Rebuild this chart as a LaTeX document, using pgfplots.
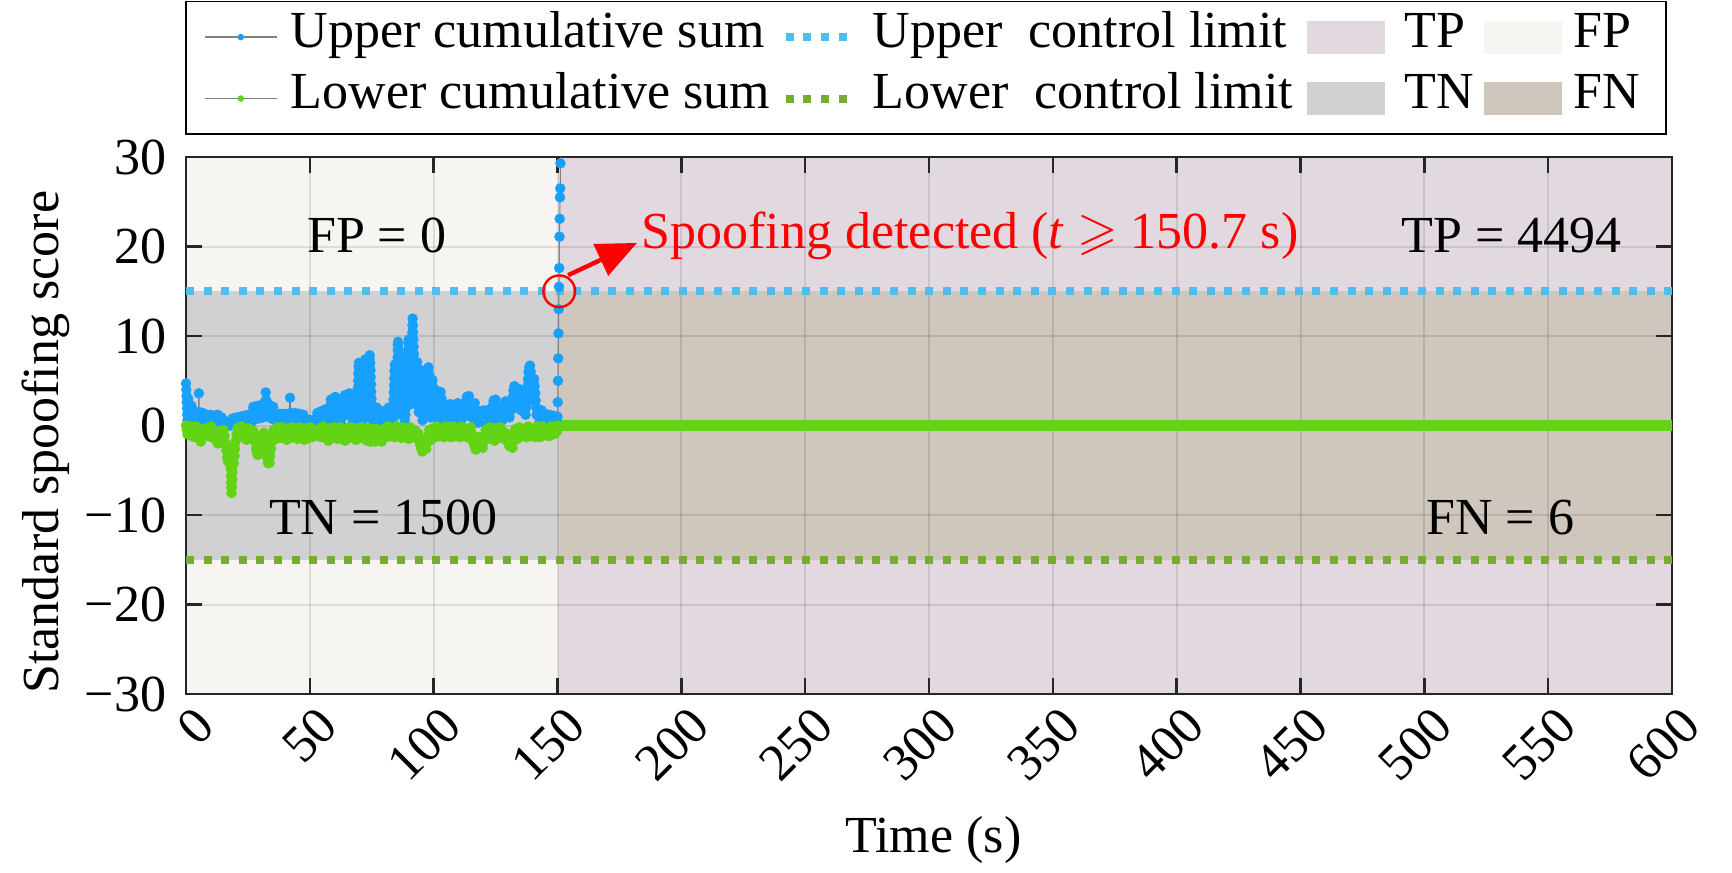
\documentclass[border=0pt]{standalone}
\usepackage{pgfplots}
\pgfplotsset{compat=1.18}
\usepackage{amssymb}
\usepackage{fontspec}
\setmainfont{Liberation Serif}
\usetikzlibrary{arrows.meta}
\definecolor{cumblue}{RGB}{24,160,255}
\definecolor{cumgreen}{RGB}{98,212,20}
\definecolor{cumline}{RGB}{128,128,128}
\definecolor{uclblue}{RGB}{77,190,238}
\definecolor{lclgreen}{RGB}{119,172,48}
\definecolor{FPc}{RGB}{247,245,241}
\definecolor{TNc}{RGB}{209,209,212}
\definecolor{TPc}{RGB}{226,217,224}
\definecolor{FNc}{RGB}{207,198,190}
\definecolor{axc}{RGB}{38,38,38}
\begin{document}
\begin{tikzpicture}[font=\fontsize{13}{15.6}\selectfont]
\begin{axis}[
  at={(0pt,0pt)}, anchor=south west,
  scale only axis, width=371.5pt, height=134.25pt,
  xmin=0, xmax=600, ymin=-30, ymax=30,
  xtick={0,50,...,600}, ytick={-30,-20,...,30},
  yticklabels={−30,−20,−10,0,10,20,30},
  /pgf/number format/assume math mode=true,
  xticklabel style={xshift=1.5pt, yshift=-2.3pt, rotate=45, anchor=north east, inner sep=0pt},
  yticklabel style={xshift=-1.4pt},
  tick align=inside, major tick length=4pt,
  tick style={axc, line width=0.6pt},
  axis line style={axc, line width=0.6pt},
  grid=major, grid style={black, opacity=0.1, line width=0.5pt},
  set layers,
  xlabel={Time (s)},
  xlabel style={at={([yshift=-36.5pt]axis description cs:0.503,0)}, anchor=center},
  ylabel={Standard spoofing score},
  ylabel style={at={([xshift=-35pt]axis description cs:0,0.469)}, anchor=center},
  legend columns=4, legend cell align=left,
  legend style={at={(0,1)}, anchor=south west, yshift=5.75pt, draw=black, line width=0.4pt,
    fill=white, inner xsep=4.5pt, inner ysep=3.25pt, column sep=0pt, row sep=4.1pt, outer sep=0pt,
    nodes={inner sep=0pt, outer sep=0pt, text height=8.2pt, text depth=3.05pt, anchor=west}},
]
% legend entries
\addlegendimage{legend image code/.code={\draw[cumline, line width=0.4pt, mark=*, mark size=0.6pt, mark options={draw=cumblue, fill=cumblue}, mark repeat=2, mark phase=2] plot coordinates {(0pt,0pt) (9pt,0pt) (18pt,0pt)}; \path[draw=none, fill=none] (0pt,0pt) rectangle (21.5pt,0.1pt);}}
\addlegendentry{\makebox[122.75pt][l]{Upper cumulative sum}}
\addlegendimage{legend image code/.code={\draw[uclblue, line width=2pt, dash pattern=on 2pt off 2.4pt] (0pt,0pt) -- (15.2pt,0pt); \path[draw=none, fill=none] (0pt,0pt) rectangle (21.75pt,0.1pt);}}
\addlegendentry{\makebox[108.5pt][l]{Upper~~control limit}}
\addlegendimage{legend image code/.code={\path[draw=none, fill=TPc] (0pt,-4.1pt) rectangle (19.5pt,4.1pt); \path[draw=none, fill=none] (0pt,0pt) rectangle (24.5pt,0.1pt);}}
\addlegendentry{\makebox[19.75pt][l]{TP}}
\addlegendimage{legend image code/.code={\path[draw=none, fill=FPc] (0pt,-4.1pt) rectangle (19.5pt,4.1pt); \path[draw=none, fill=none] (0pt,0pt) rectangle (22.5pt,0.1pt);}}
\addlegendentry{\makebox[18.5pt][l]{FP}}
\addlegendimage{legend image code/.code={\draw[cumline, line width=0.4pt, mark=*, mark size=0.6pt, mark options={draw=cumgreen, fill=cumgreen}, mark repeat=2, mark phase=2] plot coordinates {(0pt,0pt) (9pt,0pt) (18pt,0pt)}; \path[draw=none, fill=none] (0pt,0pt) rectangle (21.5pt,0.1pt);}}
\addlegendentry{\makebox[122.75pt][l]{Lower cumulative sum}}
\addlegendimage{legend image code/.code={\draw[lclgreen, line width=2pt, dash pattern=on 2pt off 2.4pt] (0pt,0pt) -- (15.2pt,0pt); \path[draw=none, fill=none] (0pt,0pt) rectangle (21.75pt,0.1pt);}}
\addlegendentry{\makebox[108.5pt][l]{Lower~~control limit}}
\addlegendimage{legend image code/.code={\path[draw=none, fill=TNc] (0pt,-4.1pt) rectangle (19.5pt,4.1pt); \path[draw=none, fill=none] (0pt,0pt) rectangle (24.5pt,0.1pt);}}
\addlegendentry{\makebox[19.75pt][l]{TN}}
\addlegendimage{legend image code/.code={\path[draw=none, fill=FNc] (0pt,-4.1pt) rectangle (19.5pt,4.1pt); \path[draw=none, fill=none] (0pt,0pt) rectangle (22.5pt,0.1pt);}}
\addlegendentry{\makebox[18.5pt][l]{FN}}

% background patches
\addplot[on layer=axis background, fill=FPc, draw=none, forget plot] coordinates {(0,-30)(150,-30)(150,30)(0,30)};
\addplot[on layer=axis background, fill=TNc, draw=none, forget plot] coordinates {(0,-15)(150,-15)(150,15)(0,15)};
\addplot[on layer=axis background, fill=TPc, draw=none, forget plot] coordinates {(150,-30)(600,-30)(600,30)(150,30)};
\addplot[on layer=axis background, fill=FNc, draw=none, forget plot] coordinates {(150,-15)(600,-15)(600,15)(150,15)};

% control limits
\addplot[uclblue, line width=2pt, dash pattern=on 2pt off 2.4pt, forget plot] coordinates {(0,15)(600,15)};
\addplot[lclgreen, line width=2pt, dash pattern=on 2pt off 2.4pt, forget plot] coordinates {(0,-15)(600,-15)};

% upper cumulative sum
\addplot[cumline, line width=0.25pt, mark=*, mark size=1.25pt, mark options={draw=cumblue, fill=cumblue, line width=0.1pt}, forget plot] coordinates {
(0,4.7)(0.1,4.0)(0.2,3.3)(0.3,2.6)(0.4,1.9)(0.5,1.2)(0.6,0.6)(0.7,1.4)(0.8,2.2)(0.9,3.0)(1.0,2.4)(1.2,1.6)(1.4,0.8)(1.6,0.2)(1.8,1.0)(2.0,1.8)(2.2,2.2)(2.5,1.4)(2.8,0.6)(3.1,0.2)(3.4,0.9)(3.7,1.5)(4.0,1.1)(4.3,0.5)(4.6,1.2)(5.0,1.4)(5.2,3.6)(5.4,1.5)(5.7,0.8)(6.0,0.2)(6.4,0.8)(6.8,1.4)(7.2,0.9)(7.6,0.3)(8.0,0.9)(8.4,1.2)(8.8,0.6)(9.2,0.1)(9.6,0.7)(10.0,1.2)(10.4,0.6)(10.8,0.1)(11.2,0.8)(11.6,1.1)(12.0,0.5)(12.4,0.9)(12.8,1.2)(13.2,0.6)(13.6,0.1)(14.0,0.6)(14.4,0.9)(14.8,0.4)(15.2,0.1)(15.6,0.5)(16.0,0.2)(16.4,0.0)(16.8,0.1)(17.2,0.0)(17.6,0.3)(18.0,0.0)(18.4,0.4)(18.8,0.8)(19.2,0.3)(19.6,0.0)(20.0,0.5)(20.4,0.9)(20.8,0.4)(21.2,0.1)(21.6,0.6)(22.0,1.0)(22.4,0.5)(22.8,0.1)(23.2,0.7)(23.6,1.1)(24.0,0.6)(24.4,0.1)(24.8,0.7)(25.2,1.2)(25.6,0.6)(26.0,0.1)(26.4,0.8)(26.8,1.5)(27.2,2.1)(27.6,1.4)(28.0,0.7)(28.4,1.5)(28.8,2.2)(29.2,1.5)(29.6,0.8)(30.0,1.6)(30.4,2.3)(30.8,1.6)(31.2,0.9)(31.6,1.8)(31.9,2.7)(32.2,3.7)(32.5,2.8)(32.8,2.0)(33.1,1.2)(33.4,2.0)(33.7,2.3)(34.0,1.5)(34.4,0.8)(34.8,1.5)(35.2,2.1)(35.6,1.4)(36.0,0.6)(36.4,1.2)(36.8,0.5)(37.2,1.1)(37.6,1.3)(38.0,0.6)(38.4,0.1)(38.8,0.7)(39.2,1.3)(39.6,0.7)(40.0,0.2)(40.4,0.8)(40.8,1.3)(41.2,0.9)(41.6,1.3)(42.0,3.1)(42.3,1.4)(42.6,0.7)(43.0,1.3)(43.4,0.6)(43.8,1.2)(44.2,1.4)(44.6,0.7)(45.0,0.1)(45.4,0.8)(45.8,1.3)(46.2,0.7)(46.6,0.2)(47.0,0.8)(47.4,1.2)(47.8,0.6)(48.2,0.1)(48.6,0.6)(49.0,0.3)(49.4,0.6)(49.8,0.2)(50.2,0.6)(50.6,0.3)(51.0,0.6)(51.4,0.1)(51.8,0.6)(52.2,0.2)(52.6,0.8)(53.0,1.4)(53.4,0.8)(53.8,0.2)(54.2,0.9)(54.6,1.6)(55.0,1.0)(55.4,0.3)(55.8,1.0)(56.2,1.8)(56.6,1.1)(57.0,0.4)(57.4,1.0)(57.8,1.6)(58.2,2.2)(58.5,2.9)(58.8,2.2)(59.1,1.5)(59.4,0.8)(59.7,1.6)(60.0,2.4)(60.3,3.2)(60.6,2.5)(60.9,1.7)(61.2,1.0)(61.6,1.4)(62.0,0.7)(62.4,0.2)(62.8,0.8)(63.2,1.4)(63.6,2.1)(63.9,2.8)(64.2,3.4)(64.5,2.7)(64.8,1.9)(65.1,1.2)(65.4,2.0)(65.7,2.8)(66.0,3.6)(66.3,2.6)(66.6,1.6)(67.0,1.0)(67.4,0.4)(67.8,1.0)(68.2,0.5)(68.6,1.1)(68.8,0.4)
(69.0,1.0)(69.1,1.8)(69.2,2.6)(69.3,3.4)(69.4,4.2)(69.5,5.0)(69.6,5.8)(69.7,6.6)(69.8,7.0)(70.0,6.2)(70.2,5.4)(70.4,4.6)(70.6,3.8)(70.8,3.0)(71.0,2.2)(71.2,1.4)(71.4,0.6)(71.6,1.4)(71.7,2.2)(71.8,3.0)(71.9,3.8)(72.0,4.6)(72.1,5.4)(72.2,6.2)(72.3,7.0)(72.4,7.4)(72.6,6.6)(72.7,5.8)(72.8,5.0)(72.9,4.2)(73.0,3.4)(73.1,2.6)(73.2,1.8)(73.3,1.0)(73.4,1.8)(73.5,2.6)(73.6,3.4)(73.7,4.2)(73.8,5.0)(73.9,5.8)(74.0,6.6)(74.1,7.4)(74.2,7.85)(74.4,7.0)(74.5,6.2)(74.6,5.4)(74.7,4.6)(74.8,3.8)(74.9,3.0)(75.0,2.2)(75.2,1.4)(75.4,0.6)
(75.8,1.2)(76.2,1.8)(76.6,1.2)(77.0,2.0)(77.4,1.3)(77.8,0.6)(78.2,1.2)(78.6,0.5)(79.0,1.1)(79.4,1.6)(79.8,0.9)(80.2,0.3)(80.6,1.0)(81.0,1.6)(81.4,1.0)(81.8,2.0)(82.2,1.3)(82.6,0.6)(83.0,1.2)(83.4,0.5)
(83.6,1.3)(83.7,2.1)(83.8,2.9)(83.9,3.7)(84.0,4.5)(84.1,5.3)(84.2,6.1)(84.3,6.8)(84.4,6.0)(84.5,5.2)(84.6,4.4)(84.7,3.6)(84.8,2.8)(84.9,2.0)(85.0,1.2)(85.1,2.0)(85.15,2.8)(85.2,3.6)(85.25,4.4)(85.3,5.2)(85.35,6.0)(85.4,6.8)(85.45,7.6)(85.5,8.4)(85.55,9.0)(85.6,9.35)(85.7,8.5)(85.8,7.7)(85.9,6.9)(86.0,6.1)(86.1,5.3)(86.2,4.5)(86.3,3.7)(86.4,2.9)(86.5,2.1)(86.6,1.3)(86.7,2.1)(86.8,2.9)(86.9,3.7)(87.0,4.5)(87.1,5.3)(87.2,6.1)(87.3,6.9)(87.4,7.6)(87.5,6.8)(87.6,6.0)(87.7,5.2)(87.8,4.4)(87.9,3.6)(88.0,2.8)(88.1,2.0)(88.2,1.2)(88.3,0.6)
(88.6,1.2)(88.9,2.0)(89.0,2.8)(89.1,3.6)(89.2,4.4)(89.3,5.2)(89.4,6.0)(89.5,6.8)(89.6,7.6)(89.7,8.4)(89.8,9.2)(89.9,9.6)(90.0,8.8)(90.1,8.0)(90.2,7.2)(90.3,6.4)(90.4,5.6)(90.5,4.8)(90.6,4.0)(90.7,3.2)(90.8,2.4)(90.9,3.2)(91.0,4.0)(91.05,4.8)(91.1,5.6)(91.15,6.4)(91.2,7.2)(91.25,8.0)(91.3,8.8)(91.35,9.6)(91.4,10.4)(91.45,11.2)(91.5,11.95)(91.6,11.2)(91.7,10.4)(91.8,9.6)(91.9,8.8)(92.0,8.0)(92.1,7.2)(92.2,6.4)(92.3,5.6)(92.4,4.8)(92.5,4.0)(92.6,3.2)(92.7,2.4)(92.8,3.2)(92.9,4.0)(93.0,4.8)(93.1,5.6)(93.2,6.4)(93.3,7.1)(93.4,6.3)(93.5,5.5)(93.6,4.7)(93.7,3.9)(93.8,3.1)(93.9,2.3)(94.0,1.5)
(94.2,2.3)(94.3,3.1)(94.4,3.9)(94.5,4.7)(94.6,5.5)(94.7,6.2)(94.9,5.4)(95.0,4.6)(95.1,3.8)(95.2,3.0)(95.3,2.2)(95.4,1.4)(95.5,0.6)(95.7,1.4)(95.8,2.2)(95.9,3.0)(96.0,3.8)(96.1,4.6)(96.2,5.5)(96.4,4.7)(96.5,3.9)(96.6,3.1)(96.7,2.3)(96.8,1.5)(97.0,2.3)(97.1,3.1)(97.2,3.9)(97.3,4.7)(97.4,5.5)(97.6,6.2)(97.9,6.5)(98.1,5.7)(98.2,4.9)(98.3,4.1)(98.4,3.3)(98.5,2.5)(98.6,1.7)(98.7,0.9)(98.9,1.7)(99.0,2.5)(99.1,3.3)(99.2,4.1)(99.3,4.9)(99.5,5.1)(99.7,4.3)(99.8,3.5)(99.9,2.7)(100.0,1.9)(100.1,1.1)(100.3,1.9)(100.4,2.7)(100.5,3.5)(100.7,4.0)(100.9,3.2)(101.0,2.4)(101.1,1.6)(101.2,0.8)
(101.6,1.5)(102.0,2.3)(102.4,3.0)(102.8,3.75)(103.2,3.0)(103.4,2.2)(103.6,1.4)(103.8,0.6)(104.2,1.2)(104.6,1.9)(105.0,1.2)(105.4,0.5)(105.8,1.2)(106.2,1.9)(106.6,2.4)(107.0,1.6)(107.4,0.8)(107.8,1.5)(108.2,2.3)(108.6,1.5)(109.0,0.7)(109.4,1.6)(109.8,2.5)(110.2,1.7)(110.6,0.9)(111.0,0.3)(111.4,1.0)(111.8,1.7)(112.2,1.0)(112.6,1.8)(113.0,2.6)(113.4,3.2)(113.8,2.4)(114.2,3.3)(114.6,2.5)(115.0,1.7)(115.4,0.9)(115.8,1.6)(116.2,2.3)(116.6,2.5)(117.0,1.7)(117.4,0.9)(117.8,0.3)(118.2,1.0)(118.6,1.6)(119.0,1.0)(119.4,0.4)(119.8,1.1)(120.2,1.7)(120.6,1.1)(121.0,0.5)(121.4,1.1)(121.8,1.7)(122.2,1.0)(122.6,0.4)(123.0,1.0)(123.4,1.6)(123.8,2.2)(124.2,2.8)(124.6,2.1)(125.0,2.9)(125.4,2.1)(125.8,1.3)(126.2,0.6)(126.6,1.3)(127.0,2.0)(127.4,1.3)(127.8,0.6)(128.2,1.4)(128.6,2.1)(129.0,2.7)(129.4,2.0)(129.8,2.5)(130.2,1.7)(130.6,0.9)(131.0,1.6)(131.4,2.4)(131.8,3.1)(132.2,3.9)(132.6,4.4)(132.9,3.6)(133.2,2.8)(133.5,2.0)(133.8,2.8)(134.1,3.6)(134.4,4.1)(134.7,3.3)(135.0,2.5)(135.3,1.7)(135.6,2.5)(135.9,3.3)(136.2,3.6)(136.5,2.8)(136.8,2.0)(137.1,1.2)
(137.3,2.0)(137.5,2.8)(137.7,3.6)(137.9,4.4)(138.1,5.2)(138.3,6.0)(138.6,6.5)(138.9,6.7)(139.2,6.0)(139.4,5.2)(139.6,4.4)(139.8,3.6)(140.0,2.8)(140.2,3.6)(140.4,4.4)(140.6,5.2)(140.8,4.4)(141.0,3.6)(141.2,2.8)(141.4,2.0)(141.6,1.2)(142.0,1.8)(142.4,1.2)(142.8,0.5)(143.2,1.2)(143.6,1.7)(144.0,1.0)(144.4,0.4)(144.8,1.0)(145.2,1.3)(145.6,0.7)(146.0,0.2)(146.4,0.8)(146.8,1.2)(147.2,0.6)(147.6,0.1)(148.0,0.7)(148.4,1.1)(148.8,0.5)(149.2,0.9)(149.6,0.4)(150.0,1.0)
(150.1,2.6)(150.2,5.0)(150.3,7.5)(150.4,10.3)(150.5,13.0)(150.6,15.5)(150.7,17.6)(150.8,21.1)(150.9,23.1)(151.0,25.5)(151.1,26.5)(151.2,29.3)(151.3,33)(151.4,38)
};

% lower cumulative sum
\addplot[cumline, line width=0.25pt, mark=*, mark size=1.25pt, mark options={draw=cumgreen, fill=cumgreen, line width=0.1pt}, forget plot] coordinates {
(0,0)(0.3,-0.5)(0.6,-1.0)(0.9,-0.5)(1.2,-0.1)(1.5,-0.6)(1.8,-1.1)(2.1,-0.6)(2.4,-0.1)(2.8,-0.7)(3.2,-1.3)(3.6,-0.7)(4.0,-0.1)(4.4,-0.8)(4.8,-1.4)(5.2,-0.8)(5.6,-1.5)(6.0,-1.8)(6.4,-1.1)(6.8,-0.4)(7.2,-1.0)(7.6,-0.4)(8.0,-0.9)(8.4,-0.3)(8.8,-0.8)(9.2,-1.2)(9.6,-0.6)(10.0,-0.1)(10.4,-0.7)(10.8,-1.3)(11.2,-0.7)(11.6,-1.5)(12.0,-0.8)(12.4,-1.6)(12.8,-2.0)(13.2,-1.3)(13.6,-0.6)(14.0,-1.3)(14.4,-1.9)(14.8,-1.2)(15.2,-0.5)(15.6,-1.2)(16.0,-2.0)(16.3,-2.8)(16.6,-3.6)(16.9,-4.0)(17.2,-3.2)(17.4,-2.4)(17.6,-3.2)(17.8,-4.0)(18.0,-4.8)(18.1,-5.6)(18.2,-6.4)(18.3,-7.0)(18.4,-7.55)(18.6,-6.8)(18.7,-6.0)(18.8,-5.2)(18.9,-4.4)(19.0,-3.6)(19.3,-4.2)(19.6,-3.4)(19.8,-2.6)(20.0,-1.8)(20.4,-1.0)(20.8,-0.3)(21.2,-0.8)(21.6,-1.3)(22.0,-0.7)(22.4,-0.1)(22.8,-0.7)(23.2,-1.3)(23.6,-0.7)(24.0,-1.2)(24.4,-1.6)(24.8,-0.9)(25.2,-0.3)(25.6,-0.8)(26.0,-1.3)(26.4,-0.7)(26.8,-1.3)(27.2,-0.6)(27.6,-1.2)(28.0,-1.9)(28.3,-2.6)(28.6,-3.0)(28.9,-3.3)(29.2,-2.6)(29.5,-1.9)(29.8,-1.2)(30.2,-1.8)(30.6,-2.2)(31.0,-1.5)(31.4,-0.8)(31.8,-1.5)(32.2,-2.2)(32.5,-2.9)(32.8,-3.6)(33.1,-4.2)(33.4,-3.5)(33.7,-4.2)(34.0,-3.4)(34.3,-2.6)(34.6,-1.8)(35.0,-1.1)(35.4,-0.5)(35.8,-1.0)(36.2,-1.5)(36.6,-0.8)(37.0,-0.2)(37.4,-0.8)(37.8,-1.4)(38.2,-0.8)(38.6,-0.2)(39.0,-0.8)(39.4,-1.3)(39.8,-0.7)(40.2,-1.2)(40.6,-1.6)(41.0,-0.9)(41.4,-0.3)(41.8,-0.9)(42.2,-1.4)(42.6,-0.8)(43.0,-0.2)(43.4,-0.8)(43.8,-1.2)(44.2,-0.6)(44.6,-1.1)(45.0,-1.5)(45.4,-0.8)(45.8,-0.2)(46.2,-0.8)(46.6,-1.3)(47.0,-0.7)(47.4,-1.2)(47.8,-1.6)(48.2,-0.9)(48.6,-0.3)(49.0,-0.9)(49.4,-1.4)(49.8,-0.8)(50.2,-0.2)(50.6,-0.8)(51.0,-1.3)(51.4,-0.7)(51.8,-1.2)(52.2,-0.6)(52.6,-1.0)(53.0,-0.5)(53.4,-1.0)(53.8,-0.4)(54.2,-0.9)(54.6,-1.3)(55.0,-0.7)(55.4,-0.1)(55.8,-0.7)(56.2,-1.3)(56.6,-0.7)(57.0,-1.4)(57.4,-1.7)(57.8,-1.0)(58.2,-0.3)(58.6,-0.9)(59.0,-1.4)(59.4,-0.8)(59.8,-0.2)(60.2,-0.8)(60.6,-1.4)(61.0,-0.8)(61.4,-1.5)(61.8,-0.8)(62.2,-0.2)(62.6,-0.8)(63.0,-1.3)(63.4,-0.7)(63.8,-1.4)(64.2,-1.7)(64.6,-1.0)(65.0,-0.3)(65.4,-0.9)(65.8,-1.4)(66.2,-0.8)(66.6,-0.2)(67.0,-0.8)(67.4,-1.3)(67.8,-0.7)(68.2,-1.3)(68.6,-1.6)(69.0,-0.9)(69.4,-0.3)(69.8,-0.9)(70.2,-1.4)(70.6,-0.8)(71.0,-0.2)(71.4,-0.8)(71.8,-1.4)(72.2,-0.8)(72.6,-1.4)(73.0,-1.7)(73.4,-1.0)(73.8,-0.3)(74.2,-1.0)(74.6,-1.8)(75.0,-1.1)(75.4,-0.4)(75.8,-1.1)(76.2,-1.8)(76.6,-1.1)(77.0,-0.4)(77.4,-1.1)(77.8,-1.7)(78.2,-1.0)(78.6,-1.6)(79.0,-1.8)(79.4,-1.1)(79.8,-0.4)(80.2,-0.9)(80.6,-1.3)(81.0,-0.7)(81.4,-0.1)(81.8,-0.7)(82.2,-1.2)(82.6,-0.6)(83.0,-1.0)(83.4,-0.4)(83.8,-0.9)(84.2,-1.3)(84.6,-0.7)(85.0,-0.1)(85.4,-0.7)(85.8,-1.1)(86.2,-0.5)(86.6,-1.0)(87.0,-1.4)(87.4,-0.8)(87.8,-0.2)(88.2,-0.8)(88.6,-1.2)(89.0,-0.6)(89.4,-1.1)(89.8,-1.5)(90.2,-0.8)(90.6,-0.2)(91.0,-0.8)(91.4,-1.3)(91.8,-0.7)(92.2,-1.2)(92.6,-0.6)(93.0,-1.0)(93.4,-1.5)(93.8,-0.9)(94.2,-1.6)(94.6,-2.2)(95.0,-2.6)(95.4,-2.9)(95.8,-2.3)(96.2,-1.6)(96.6,-2.2)(97.0,-2.6)(97.4,-1.9)(97.8,-1.2)(98.2,-0.5)(98.6,-1.1)(99.0,-1.6)(99.4,-0.9)(99.8,-0.3)(100.2,-0.9)(100.6,-1.3)(101.0,-0.7)(101.4,-0.1)(101.8,-0.7)(102.2,-1.2)(102.6,-0.6)(103.0,-1.1)(103.4,-0.5)(103.8,-1.0)(104.2,-1.3)(104.6,-0.7)(105.0,-0.1)(105.4,-0.7)(105.8,-1.2)(106.2,-0.6)(106.6,-1.1)(107.0,-1.3)(107.4,-0.7)(107.8,-0.1)(108.2,-0.7)(108.6,-1.2)(109.0,-0.6)(109.4,-1.1)(109.8,-0.5)(110.2,-1.0)(110.6,-1.3)(111.0,-0.7)(111.4,-0.1)(111.8,-0.7)(112.2,-1.2)(112.6,-0.6)(113.0,-1.1)(113.4,-0.5)(113.8,-1.0)(114.2,-1.4)(114.6,-0.8)(115.0,-0.2)(115.4,-0.9)(115.8,-1.5)(116.2,-2.0)(116.6,-2.4)(117.0,-2.7)(117.4,-2.0)(117.8,-1.3)(118.2,-1.8)(118.6,-2.2)(119.0,-1.5)(119.4,-2.0)(119.8,-2.5)(120.2,-1.8)(120.6,-1.1)(121.0,-0.5)(121.4,-1.1)(121.8,-1.5)(122.2,-0.8)(122.6,-0.2)(123.0,-0.8)(123.4,-1.3)(123.8,-0.7)(124.2,-1.3)(124.6,-1.7)(125.0,-1.0)(125.4,-0.3)(125.8,-0.9)(126.2,-1.4)(126.6,-0.8)(127.0,-0.2)(127.4,-0.8)(127.8,-1.3)(128.2,-0.7)(128.6,-1.2)(129.0,-1.6)(129.4,-0.9)(129.8,-1.5)(130.2,-2.0)(130.6,-2.3)(131.0,-1.7)(131.4,-2.2)(131.8,-2.5)(132.2,-1.8)(132.6,-1.1)(133.0,-0.4)(133.4,-1.0)(133.8,-1.5)(134.2,-0.8)(134.6,-0.2)(135.0,-0.8)(135.4,-1.2)(135.8,-0.6)(136.2,-1.1)(136.6,-0.5)(137.0,-1.0)(137.4,-1.3)(137.8,-0.7)(138.2,-0.1)(138.6,-0.7)(139.0,-1.2)(139.4,-0.6)(139.8,-1.0)(140.2,-0.4)(140.6,-0.9)(141.0,-1.3)(141.4,-0.7)(141.8,-0.1)(142.2,-0.7)(142.6,-1.1)(143.0,-1.3)(143.4,-0.7)(143.8,-0.1)(144.2,-0.6)(144.6,-1.1)(145.0,-0.5)(145.4,-1.0)(145.8,-0.4)(146.2,-0.9)(146.6,-1.2)(147.0,-0.6)(147.4,-0.1)(147.8,-0.6)(148.2,-1.0)(148.6,-0.5)(149.0,-0.9)(149.4,-0.3)(149.8,-0.6)(150.0,0)
};
\addplot[cumgreen, line width=2.6pt, line cap=round, forget plot] coordinates {(150,0)(600,0)};

% annotation
\addplot[red, only marks, mark=o, mark size=3.96pt, mark options={line width=0.6pt}, forget plot] coordinates {(150.7,15)};
\draw[red, line width=1.1pt, -{Triangle[length=10pt, width=8.5pt]}] (axis cs:154.3,16.8) -- (axis cs:182.1,20.4);
\node[red, anchor=west, inner sep=0pt] at (axis cs:183.7,21.24) {Spoofing detected (\textit{t} $\geqslant$ 150.7 s)};
\node[anchor=center] at (axis cs:77.0,21.24) {FP = 0};
\node[anchor=center] at (axis cs:535.2,21.24) {TP = 4494};
\node[anchor=center] at (axis cs:79.7,-10.24) {TN = 1500};
\node[anchor=center] at (axis cs:530.7,-10.24) {FN = 6};
\end{axis}
\pgfresetboundingbox
\useasboundingbox (-46.5pt,-44.5pt) rectangle (386.5pt,173.5pt);
\end{tikzpicture}
\end{document}
